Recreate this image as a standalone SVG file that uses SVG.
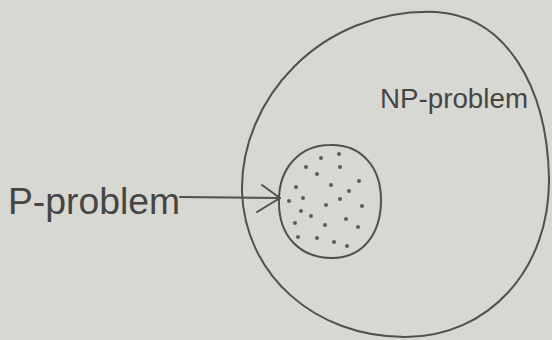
<svg xmlns="http://www.w3.org/2000/svg" width="552" height="340" viewBox="0 0 552 340">
  <style>
    .ink { fill: none; stroke: #505050; stroke-width: 2; stroke-linecap: round; stroke-linejoin: round; }
    .lbl { font-family: "Liberation Sans", Arial, sans-serif; fill: #454545; }
    .dot { fill: #5a5a5a; }
  </style>
  <rect width="552" height="340" fill="#d8d8d3"/>
  <g id="np-problem">
    <path class="ink" d="M436,12 C505,16 547,85 549,178 C550,270 488,337 405,337 C315,337 245,275 242,192 C240,100 320,8 436,12 Z"/>
    <text class="lbl" x="380" y="108" font-size="27" textLength="148" lengthAdjust="spacingAndGlyphs">NP-problem</text>
  </g>
  <g id="p-problem">
    <path class="ink" d="M330,145 C362,144 381,168 381,200 C381,235 362,258 332,258 C300,258 278,236 279,200 C279,168 300,145 330,145 Z"/>
    <g>
      <circle class="dot" cx="321" cy="158" r="2"/>
      <circle class="dot" cx="339" cy="154" r="2"/>
      <circle class="dot" cx="306" cy="167" r="2"/>
      <circle class="dot" cx="340" cy="167" r="2"/>
      <circle class="dot" cx="317" cy="174" r="2"/>
      <circle class="dot" cx="359" cy="181" r="2"/>
      <circle class="dot" cx="296" cy="187" r="2"/>
      <circle class="dot" cx="331" cy="185" r="2"/>
      <circle class="dot" cx="349" cy="191" r="2"/>
      <circle class="dot" cx="289" cy="201" r="2"/>
      <circle class="dot" cx="303" cy="198" r="2"/>
      <circle class="dot" cx="340" cy="199" r="2"/>
      <circle class="dot" cx="362" cy="206" r="2"/>
      <circle class="dot" cx="301" cy="211" r="2"/>
      <circle class="dot" cx="311" cy="216" r="2"/>
      <circle class="dot" cx="326" cy="205" r="2"/>
      <circle class="dot" cx="346" cy="219" r="2"/>
      <circle class="dot" cx="295" cy="223" r="2"/>
      <circle class="dot" cx="325" cy="225" r="2"/>
      <circle class="dot" cx="358" cy="227" r="2"/>
      <circle class="dot" cx="298" cy="237" r="2"/>
      <circle class="dot" cx="317" cy="238" r="2"/>
      <circle class="dot" cx="334" cy="242" r="2"/>
      <circle class="dot" cx="347" cy="246" r="2"/>
    </g>
  </g>
  <g id="p-label">
    <text class="lbl" x="8" y="214" font-size="37" textLength="172" lengthAdjust="spacingAndGlyphs">P-problem</text>
  </g>
  <g id="connectors">
    <path class="ink" d="M180,197 L280,198"/>
    <path class="ink" d="M262,185 L280,198 L257,212"/>
  </g>
</svg>
